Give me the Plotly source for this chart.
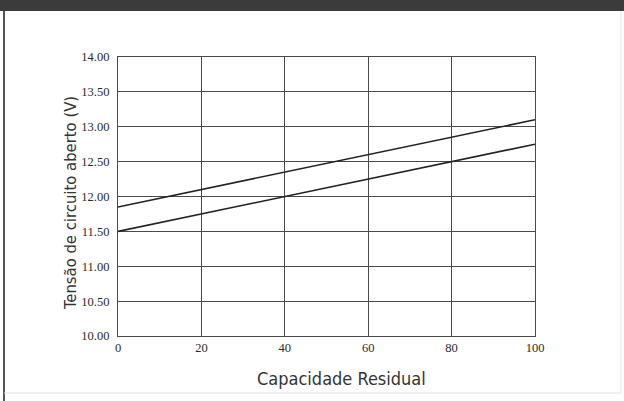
import plotly.graph_objects as go

# Data
capacidade = [0, 100]
tensao_superior = [11.85, 13.10]
tensao_inferior = [11.50, 12.75]
x_ticks = [0, 20, 40, 60, 80, 100]
y_ticks = [10.0, 10.5, 11.0, 11.5, 12.0, 12.5, 13.0, 13.5, 14.0]
x_title = "Capacidade Residual"
y_title = "Tensão de circuito aberto (V)"
chart_title = "Relação entre a tensão de circuito aberto e a capacidade residual (12V)"

W, H = 624, 401
L, R, T, B = 118, 89, 57, 65
pw, ph = W - L - R, H - T - B

def px(x):
    return (x - L) / pw

def py(y):
    return 1 - (y - T) / ph

fig = go.Figure()
for ys in (tensao_superior, tensao_inferior):
    fig.add_trace(go.Scatter(x=capacidade, y=ys, mode="lines",
                             line=dict(color="#222222", width=1.6),
                             showlegend=False, hoverinfo="skip"))

tick_font = dict(family="Liberation Serif, Times New Roman, serif", size=12.5, color="#2a2a2a")
title_family = "DejaVu Sans Condensed, Liberation Sans Narrow, DejaVu Sans, sans-serif"

fig.update_xaxes(range=[0, 100], tickvals=x_ticks, ticktext=[str(v) for v in x_ticks],
                 showgrid=True, gridcolor="#4a4a4a", gridwidth=1,
                 showline=True, linecolor="#4a4a4a", linewidth=1.2, mirror=True,
                 zeroline=False, ticks="", tickfont=tick_font)
fig.update_yaxes(range=[10, 14], tickvals=y_ticks, ticktext=[f"{v:.2f}" for v in y_ticks],
                 showgrid=True, gridcolor="#4a4a4a", gridwidth=1,
                 showline=True, linecolor="#4a4a4a", linewidth=1.2, mirror=True,
                 zeroline=False, ticks="", tickfont=tick_font, ticklabelstandoff=5)

shapes = [
    dict(type="rect", xref="paper", yref="paper", x0=px(0), x1=px(W), y0=py(-2), y1=py(11),
         fillcolor="#3b3b3b", line=dict(width=0), layer="below"),
    dict(type="line", xref="paper", yref="paper", x0=px(4), x1=px(4), y0=py(11), y1=py(H),
         line=dict(color="#555555", width=2)),
    dict(type="line", xref="paper", yref="paper", x0=px(4), x1=px(621), y0=py(393), y1=py(393),
         line=dict(color="#e2e2e2", width=1)),
    dict(type="line", xref="paper", yref="paper", x0=px(621), x1=px(621), y0=py(11), y1=py(393),
         line=dict(color="#e8e8e8", width=1)),
]

annotations = [
    dict(text=f"<b>{chart_title}</b>", xref="paper", yref="paper", x=px(312), y=py(2),
         xanchor="center", yanchor="bottom", showarrow=False,
         font=dict(family="Open Sans, sans-serif", size=17, color="white")),
    dict(text=x_title, xref="paper", yref="paper", x=px(341), y=py(378),
         xanchor="center", yanchor="middle", showarrow=False,
         font=dict(family=title_family, size=18, color="#333333")),
    dict(text=y_title, xref="paper", yref="paper", x=px(70), y=py(203),
         xanchor="center", yanchor="middle", showarrow=False, textangle=-90,
         font=dict(family=title_family, size=16.5, color="#333333")),
]

fig.update_layout(
    width=W, height=H, margin=dict(l=L, r=R, t=T, b=B),
    paper_bgcolor="white", plot_bgcolor="white",
    shapes=shapes, annotations=annotations,
)

fig.write_html("out.html", config={"displayModeBar": False},
               post_script="document.body.style.margin='0';document.body.style.padding='0';")
